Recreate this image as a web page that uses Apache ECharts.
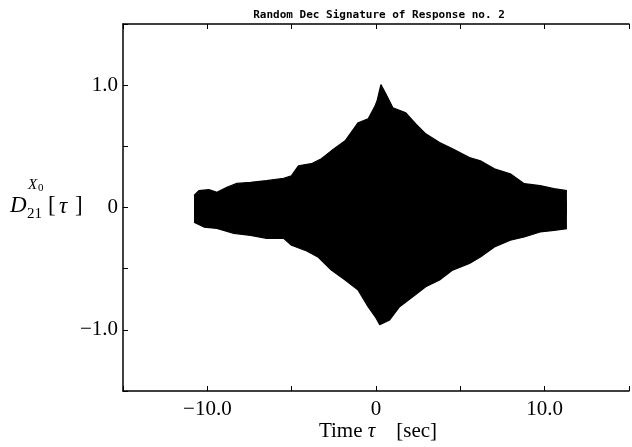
<!DOCTYPE html>
<html><head><meta charset="utf-8">
<script src="https://cdn.jsdelivr.net/npm/echarts@6/dist/echarts.min.js"></script>
<style>html,body{margin:0;padding:0;background:#fff}#c{width:632px;height:447px}</style>
</head><body><div id="c"></div>
<script>
// Envelope of the Random Dec signature
var upperT = [-10.79,-10.50,-9.91,-9.43,-8.84,-8.25,-7.43,-6.49,-5.48,-5.01,-4.60,-3.83,-3.24,-2.65,-1.83,-1.06,-0.47,-0.06,0.06,0.29,0.59,1.00,1.77,2.36,2.95,3.77,4.54,5.54,6.19,7.02,7.96,8.79,9.73,10.55,11.32];
var upperV = [0.098,0.138,0.146,0.124,0.165,0.197,0.206,0.220,0.238,0.260,0.341,0.358,0.398,0.463,0.545,0.693,0.724,0.829,0.870,1.005,0.927,0.815,0.774,0.683,0.602,0.531,0.480,0.409,0.382,0.317,0.276,0.195,0.179,0.154,0.138];
var lowerT = [-10.79,-10.20,-9.43,-8.43,-7.43,-6.49,-5.48,-5.01,-4.19,-3.42,-2.65,-1.83,-1.06,-0.47,0.00,0.22,0.81,1.40,2.18,2.95,3.77,4.54,5.54,6.19,7.02,7.96,8.79,9.73,10.55,11.32];
var lowerV = [-0.120,-0.160,-0.171,-0.211,-0.228,-0.252,-0.252,-0.309,-0.350,-0.407,-0.512,-0.593,-0.675,-0.811,-0.902,-0.959,-0.919,-0.811,-0.729,-0.648,-0.593,-0.512,-0.458,-0.404,-0.323,-0.268,-0.241,-0.200,-0.187,-0.173];
var xTickLabels = {'-10': '\u221210.0', '0': '0', '10': '10.0'};
var yTickLabels = {'-1': '\u22121.0', '0': '0', '1': '1.0'};
var titleText = 'Random Dec Signature of Response no. 2';

function zip(a, b) { return a.map(function (v, i) { return [v, b[i]]; }); }

var serif = 'Liberation Serif';
var chart = echarts.init(document.getElementById('c'));
var axisLine = { show: true, onZero: false, lineStyle: { color: '#000', width: 1.5 } };
var tick = { inside: true, length: 5, lineStyle: { color: '#000', width: 1 } };
chart.setOption({
  animation: false,
  grid: { left: 123, right: 0, top: 24, bottom: 56 },
  xAxis: [{
    type: 'value', min: -15, max: 15, interval: 5, position: 'bottom',
    axisLine: axisLine, splitLine: { show: false }, axisTick: tick,
    axisLabel: { margin: 8, color: '#000', fontFamily: serif, fontSize: 21,
      formatter: function (v) { return xTickLabels[String(v)] || ''; } }
  }, {
    type: 'value', min: -15, max: 15, interval: 5, position: 'top',
    axisLine: axisLine, splitLine: { show: false }, axisTick: tick,
    axisLabel: { show: false }
  }],
  yAxis: [{
    type: 'value', min: -1.5, max: 1.5, interval: 0.5, position: 'left',
    axisLine: axisLine, splitLine: { show: false }, axisTick: tick,
    axisLabel: { margin: 5, color: '#000', fontFamily: serif, fontSize: 21,
      formatter: function (v) { return yTickLabels[String(v)] || ''; } }
  }],
  series: [{
    type: 'line', data: zip(upperT, upperV), showSymbol: false, silent: true,
    lineStyle: { color: '#000', width: 1.2 }, areaStyle: { color: '#000', opacity: 1, origin: -0.05 }
  }, {
    type: 'line', data: zip(lowerT, lowerV), showSymbol: false, silent: true,
    lineStyle: { color: '#000', width: 1.2 }, areaStyle: { color: '#000', opacity: 1, origin: 0.05 }
  }],
  graphic: [
    { type: 'text', x: 379, y: 15, style: { text: titleText, fill: '#000', align: 'center', verticalAlign: 'middle',
      font: 'bold 11px "DejaVu Sans Mono"' }, z: 100 },
    { type: 'text', x: 10, y: 206, style: { text: 'D', fill: '#000', font: 'italic 23px "Liberation Serif"', verticalAlign: 'middle' } },
    { type: 'text', x: 28, y: 185, style: { text: 'X', fill: '#000', font: 'italic 15px "Liberation Serif"', verticalAlign: 'middle' } },
    { type: 'text', x: 38, y: 188, style: { text: '0', fill: '#000', font: '11px "Liberation Serif"', verticalAlign: 'middle' } },
    { type: 'text', x: 27, y: 214, style: { text: '21', fill: '#000', font: '15px "Liberation Serif"', verticalAlign: 'middle' } },
    { type: 'text', x: 48, y: 206, style: { text: '[', fill: '#000', font: '23px "Liberation Serif"', verticalAlign: 'middle' } },
    { type: 'text', x: 59, y: 207, style: { text: '\u03c4', fill: '#000', font: 'italic 23px "Liberation Serif"', verticalAlign: 'middle' } },
    { type: 'text', x: 75, y: 206, style: { text: ']', fill: '#000', font: '23px "Liberation Serif"', verticalAlign: 'middle' } },
    { type: 'text', x: 378, y: 431, style: {
      text: '{a|Time }{b|\u03c4}{a|    [sec]}', fill: '#000', align: 'center', verticalAlign: 'middle',
      rich: { a: { fontFamily: serif, fontSize: 21, fill: '#000' }, b: { fontFamily: serif, fontStyle: 'italic', fontSize: 21, fill: '#000' } } } }
  ]
});
</script></body></html>
